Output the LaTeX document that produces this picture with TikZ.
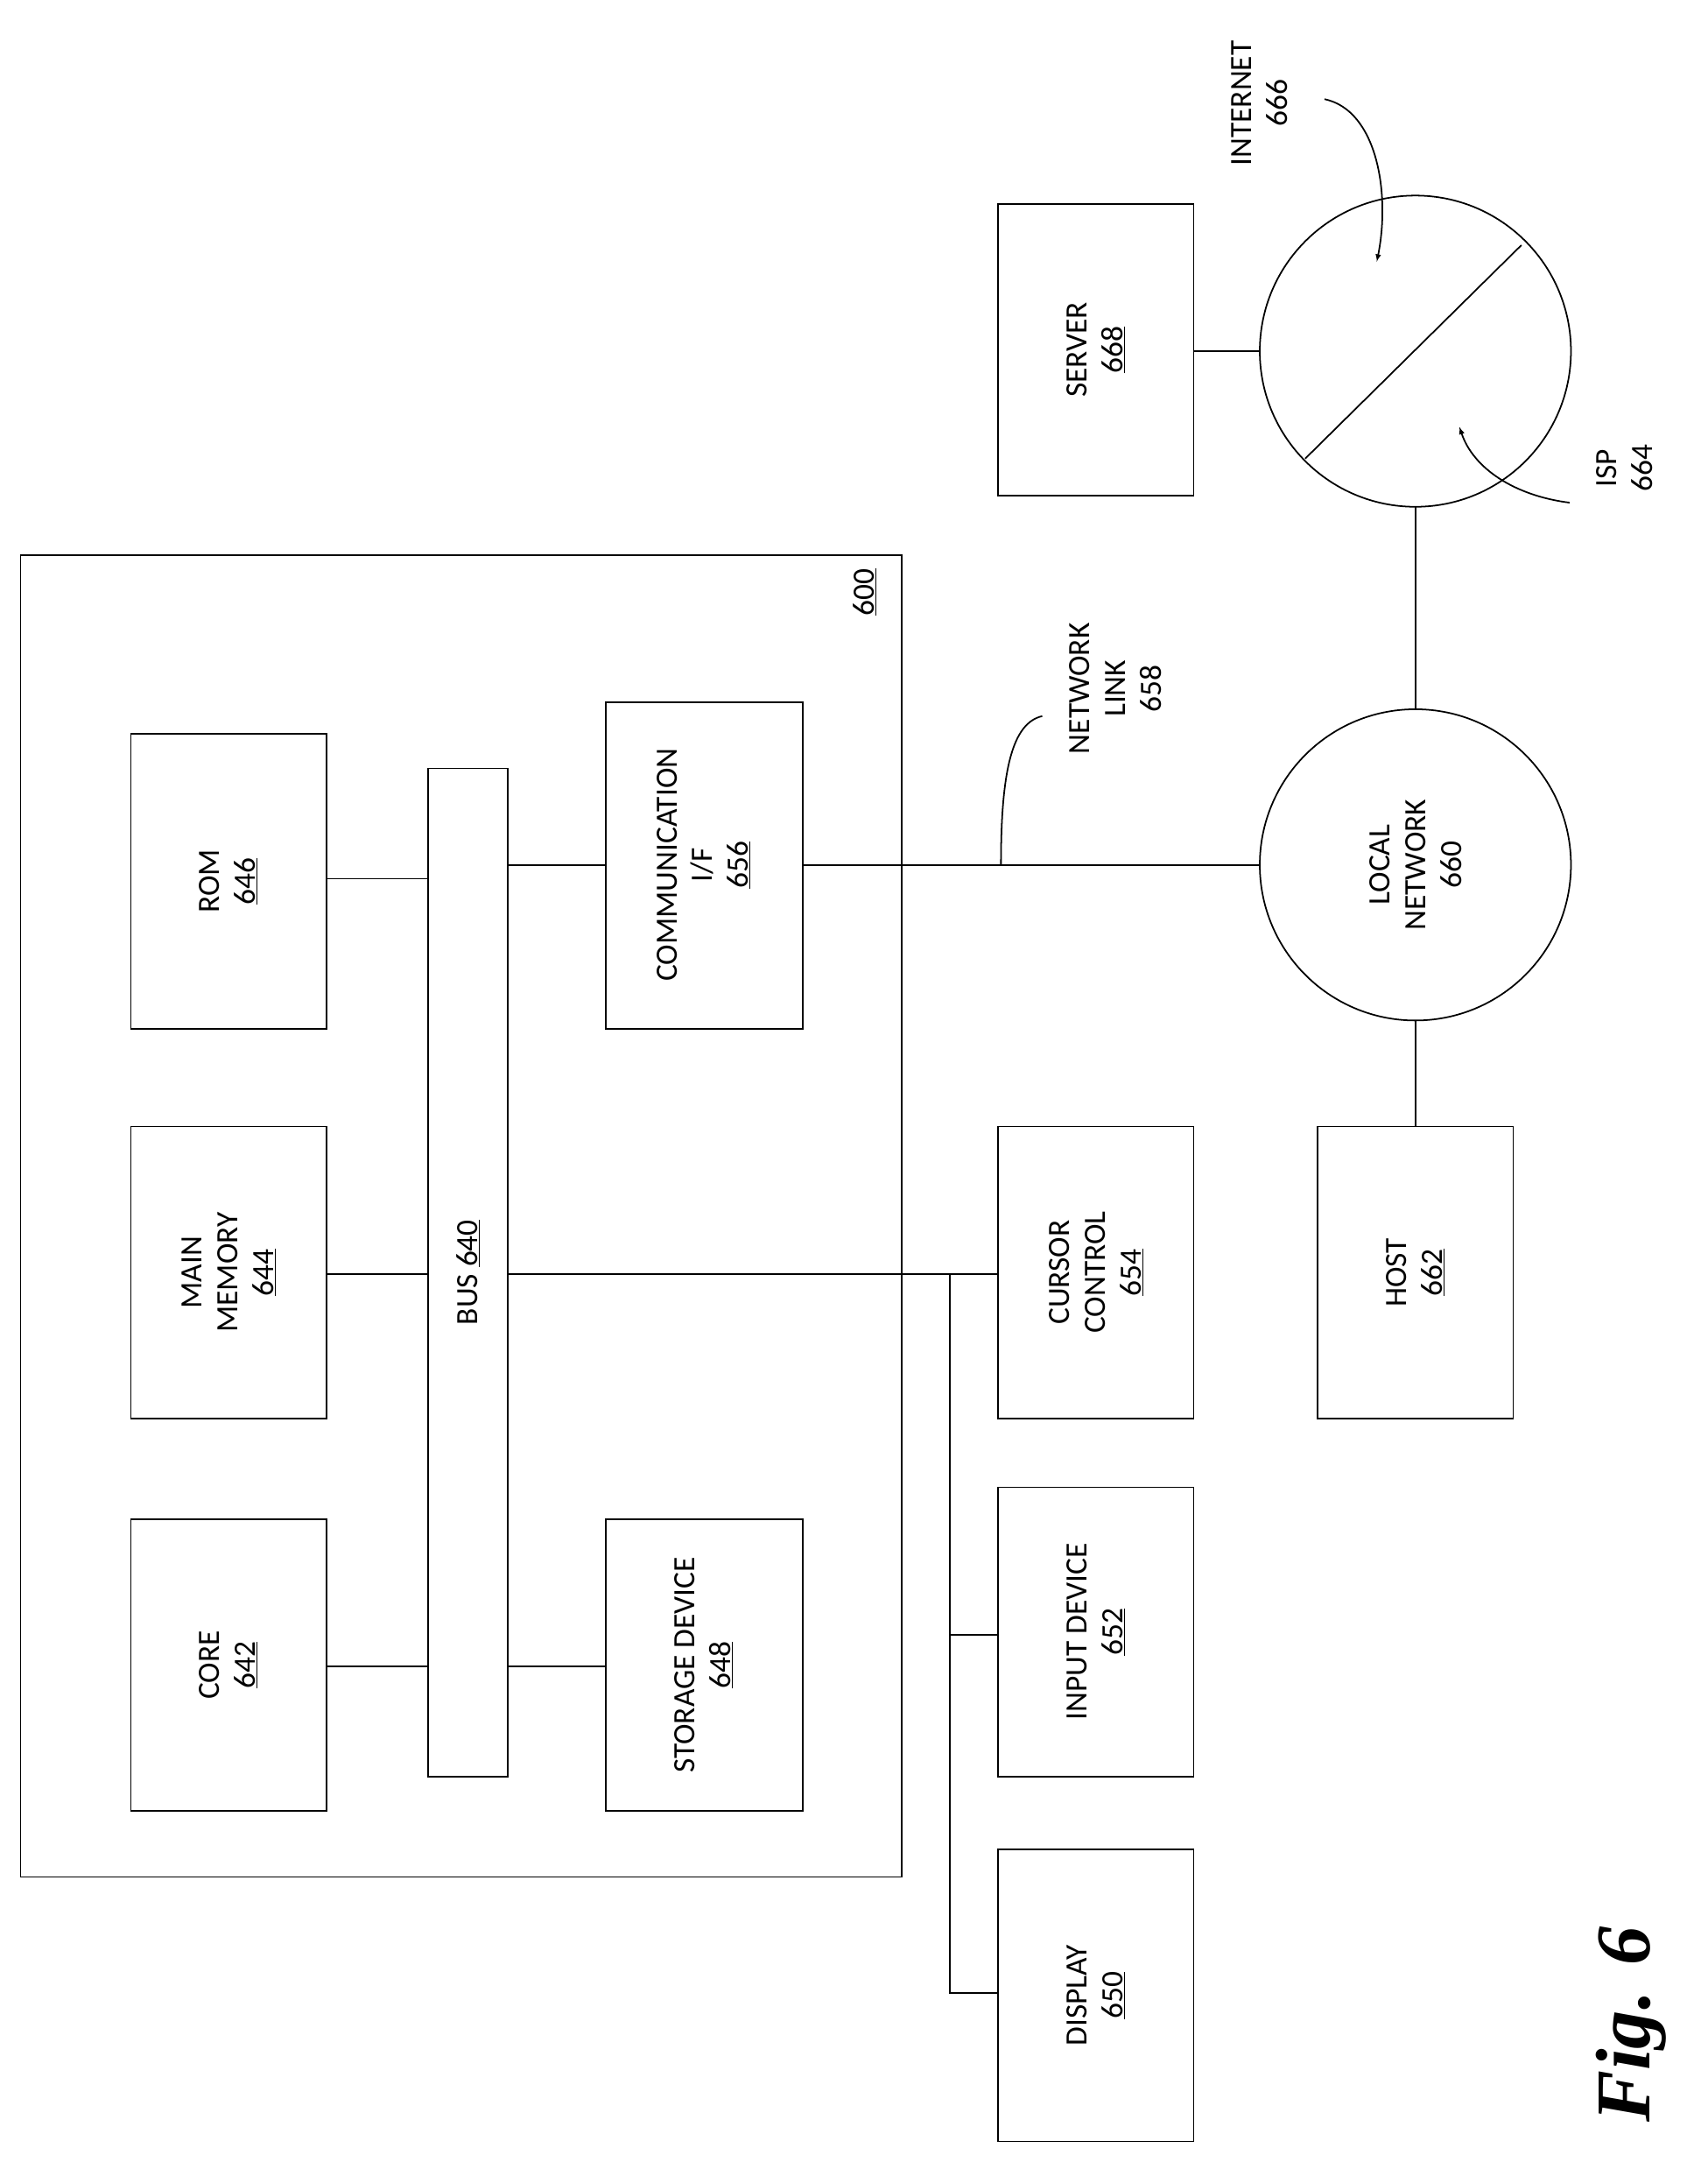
\documentclass[tikz,border=0pt]{standalone}
\usepackage{fontspec}
\setmainfont{Carlito}
\newfontfamily\figfont{Liberation Serif}
\begin{document}
\begin{tikzpicture}[x=0.05cm,y=-0.05cm,line width=1.6pt,
 lbl/.style={rotate=90,align=center,font=\fontsize{32}{37}\selectfont},
 >=latex]
\useasboundingbox (0,0) rectangle (1240,1575);
% outer
\draw (15,403) rectangle (655,1363);
\node[lbl] (l600) at (628,430) {\underline{600}};
% boxes
\draw (95,533) rectangle (237,747);   \node[lbl] (rom) at (166,640) {ROM\\\underline{646}};
\draw (95,818) rectangle (237,1030);  \node[lbl] (mem) at (166,924) {MAIN\\MEMORY\\\underline{644}};
\draw (95,1103) rectangle (237,1315); \node[lbl] (core) at (166,1209) {CORE\\\underline{642}};
\draw (311,558) rectangle (369,1290); \node[lbl] (bus) at (340,924) {BUS \underline{640}};
\draw (440,510) rectangle (583,747);  \node[lbl] (comm) at (511,628) {COMMUNICATION\\I/F\\\underline{656}};
\draw (440,1103) rectangle (583,1315);\node[lbl] (stor) at (511,1209) {STORAGE DEVICE\\\underline{648}};
\draw (725,818) rectangle (867,1030); \node[lbl] (cur) at (796,924) {CURSOR\\CONTROL\\\underline{654}};
\draw (725,1080) rectangle (867,1290);\node[lbl] (inp) at (796,1185) {INPUT DEVICE\\\underline{652}};
\draw (725,1343) rectangle (867,1555);\node[lbl] (disp) at (796,1449) {DISPLAY\\\underline{650}};
\draw (957,818) rectangle (1099,1030);\node[lbl] (host) at (1028,924) {HOST\\\underline{662}};
\draw (725,148) rectangle (867,360);  \node[lbl] (serv) at (796,254) {SERVER\\\underline{668}};
% circles
\draw (1028,628) circle[radius=113*0.05cm]; \node[lbl] (ln) at (1028,628) {LOCAL\\NETWORK\\660};
\draw (1028,255) circle[radius=113*0.05cm];
\draw (948,333) -- (1105,178);
% connectors
\draw (237,638) -- (311,638);
\draw (237,925) -- (311,925);
\draw (237,1210) -- (311,1210);
\draw (369,628) -- (440,628);
\draw (369,1210) -- (440,1210);
\draw (369,925) -- (725,925);
\draw (690,925) -- (690,1447) -- (725,1447);
\draw (690,1187) -- (725,1187);
\draw (583,628) -- (915,628);
\draw (1028,741) -- (1028,818);
\draw (1028,515) -- (1028,368);
\draw (867,255) -- (915,255);
% labels
\draw (727,628) .. controls (727,560) and (735,525) .. (757,520);
\node[lbl] (nl) at (810,500) {NETWORK\\LINK\\658};
\node[lbl] (inet) at (915,75) {INTERNET\\666};
\draw[->] (962,72) .. controls (1000,80) and (1010,140) .. (1000,190);
\node[lbl] (isp) at (1180,340) {ISP\\664};
\draw[->] (1140,365) .. controls (1100,360) and (1070,340) .. (1060,310);
\node[rotate=90,font=\figfont\fontsize{80}{90}\selectfont\bfseries\itshape] (fig) at (1185,1470) {Fig. 6};
\end{tikzpicture}
\end{document}
